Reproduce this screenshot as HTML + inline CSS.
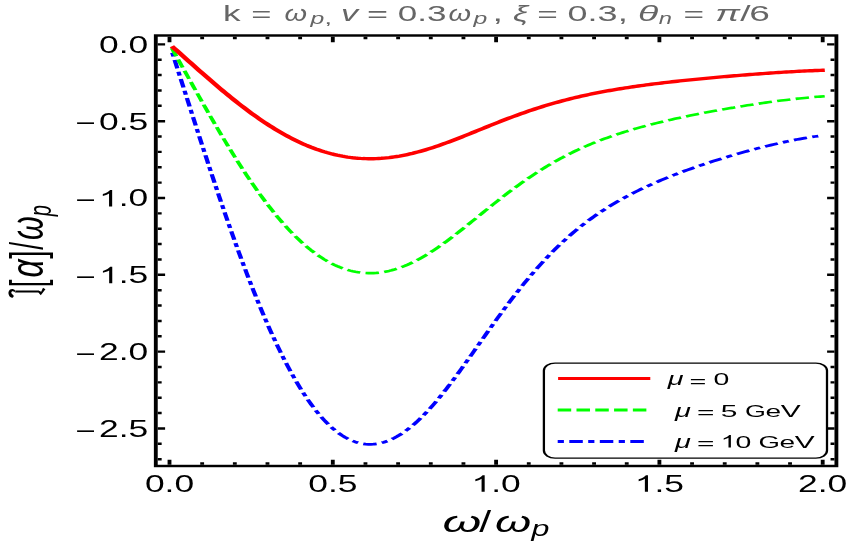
<!DOCTYPE html>
<html><head><meta charset="utf-8"><title>plot</title>
<style>
html,body{margin:0;padding:0;background:#fff;}
body{width:850px;height:545px;overflow:hidden;}
svg{display:block;will-change:transform;}
text{font-family:"Liberation Sans",sans-serif;}
</style></head><body>
<svg width="850" height="545" viewBox="0 0 541.4013 545" preserveAspectRatio="none">
<rect x="0" y="0" width="541.401" height="545" fill="#fff"/>
<g id="curves" fill="none" stroke-linejoin="round">
<path id="c_blue" d="M109.50 51.55 L111.25 60.05 L113.00 68.58 L114.75 77.12 L116.51 85.67 L118.26 94.22 L120.01 102.77 L121.76 111.31 L123.51 119.83 L125.26 128.33 L127.01 136.81 L128.76 145.25 L130.42 153.19 L132.07 161.09 L133.73 168.94 L135.38 176.75 L137.03 184.51 L138.69 192.22 L140.34 199.86 L141.99 207.44 L143.65 214.96 L145.30 222.40 L146.96 229.77 L148.61 237.06 L150.26 244.27 L151.92 251.39 L153.57 258.42 L155.22 265.36 L156.88 272.21 L158.53 278.95 L160.19 285.60 L161.84 292.14 L163.49 298.57 L165.15 304.89 L166.80 311.10 L168.45 317.19 L170.11 323.17 L171.76 329.02 L173.42 334.75 L175.07 340.35 L176.72 345.83 L178.38 351.17 L180.03 356.38 L181.68 361.45 L183.34 366.39 L184.99 371.19 L186.65 375.85 L188.30 380.36 L189.95 384.73 L191.61 388.96 L193.26 393.03 L194.91 396.96 L196.57 400.73 L198.22 404.36 L199.88 407.82 L201.53 411.14 L203.18 414.30 L204.84 417.30 L206.49 420.15 L208.14 422.83 L209.80 425.36 L211.45 427.73 L213.11 429.94 L214.76 432.00 L216.41 433.89 L218.07 435.62 L219.72 437.20 L221.37 438.61 L223.03 439.87 L224.68 440.97 L226.34 441.92 L227.99 442.70 L229.64 443.33 L231.30 443.81 L232.95 444.13 L234.60 444.30 L236.26 444.32 L237.91 444.19 L239.57 443.91 L241.22 443.49 L242.87 442.92 L244.53 442.21 L246.18 441.35 L247.83 440.36 L249.49 439.23 L251.14 437.97 L252.80 436.57 L254.45 435.05 L256.10 433.39 L257.76 431.62 L259.41 429.72 L261.07 427.71 L262.72 425.58 L264.37 423.34 L266.03 420.99 L267.68 418.53 L269.33 415.98 L270.99 413.32 L272.64 410.58 L274.30 407.74 L275.95 404.82 L277.60 401.81 L279.26 398.73 L280.91 395.57 L282.56 392.35 L284.22 389.06 L285.87 385.71 L287.53 382.31 L289.18 378.85 L290.83 375.35 L292.49 371.82 L294.14 368.24 L295.79 364.64 L297.45 361.02 L299.10 357.37 L300.76 353.71 L302.41 350.05 L304.06 346.37 L305.72 342.70 L307.37 339.03 L309.02 335.37 L310.68 331.71 L312.33 328.07 L313.99 324.46 L315.64 320.86 L317.29 317.28 L318.95 313.74 L320.60 310.22 L322.25 306.74 L323.91 303.29 L325.56 299.88 L327.22 296.51 L328.87 293.18 L330.52 289.89 L332.18 286.65 L333.83 283.46 L335.48 280.31 L337.14 277.21 L338.79 274.16 L340.45 271.17 L342.10 268.22 L343.75 265.32 L345.41 262.48 L347.06 259.69 L348.71 256.95 L350.37 254.26 L352.02 251.63 L353.68 249.04 L355.33 246.51 L356.98 244.04 L358.64 241.61 L360.29 239.24 L361.94 236.92 L363.60 234.64 L365.25 232.42 L366.91 230.25 L368.56 228.13 L370.21 226.05 L371.87 224.03 L373.52 222.05 L375.17 220.11 L376.83 218.22 L378.48 216.37 L380.14 214.57 L381.79 212.80 L383.44 211.08 L385.10 209.39 L386.75 207.74 L388.40 206.13 L390.06 204.55 L391.71 203.01 L393.37 201.50 L395.02 200.02 L396.67 198.57 L398.33 197.15 L399.98 195.76 L401.63 194.39 L403.29 193.06 L404.94 191.75 L406.60 190.47 L408.25 189.21 L409.90 187.97 L411.56 186.76 L413.21 185.57 L414.86 184.40 L416.52 183.25 L418.17 182.12 L419.83 181.00 L421.48 179.91 L423.13 178.84 L424.79 177.78 L426.44 176.74 L428.09 175.71 L429.75 174.70 L431.40 173.71 L433.06 172.73 L434.71 171.76 L436.36 170.80 L438.02 169.86 L439.67 168.94 L441.32 168.02 L442.98 167.11 L444.63 166.22 L446.29 165.34 L447.94 164.47 L449.59 163.61 L451.25 162.76 L452.90 161.91 L454.55 161.08 L456.21 160.26 L457.86 159.45 L459.52 158.65 L461.17 157.85 L462.82 157.07 L464.48 156.29 L466.13 155.53 L467.78 154.77 L469.44 154.02 L471.09 153.28 L472.75 152.55 L474.40 151.82 L476.05 151.11 L477.71 150.40 L479.36 149.71 L481.02 149.02 L482.67 148.35 L484.32 147.68 L485.98 147.02 L487.63 146.38 L489.28 145.74 L490.94 145.12 L492.59 144.50 L494.25 143.90 L495.90 143.31 L497.55 142.73 L499.21 142.16 L500.86 141.61 L502.51 141.07 L504.17 140.55 L505.82 140.04 L507.48 139.54 L509.13 139.06 L510.78 138.59 L512.44 138.14 L514.09 137.71 L515.74 137.30 L517.40 136.90 L519.05 136.53 L520.71 136.17 L522.36 135.84 L524.01 135.52" stroke="#0000ff" stroke-width="2.75" stroke-dasharray="1.200 6.209 5.850 6.209" stroke-dashoffset="16.947" stroke-linecap="square"/>
<path id="c_green" d="M109.50 48.36 L111.25 53.23 L113.00 58.11 L114.75 63.00 L116.51 67.89 L118.26 72.79 L120.01 77.68 L121.76 82.57 L123.51 87.44 L125.26 92.31 L127.01 97.16 L128.76 101.99 L130.42 106.54 L132.07 111.06 L133.73 115.56 L135.38 120.03 L137.03 124.47 L138.69 128.88 L140.34 133.25 L141.99 137.59 L143.65 141.89 L145.30 146.15 L146.96 150.37 L148.61 154.54 L150.26 158.67 L151.92 162.74 L153.57 166.77 L155.22 170.74 L156.88 174.66 L158.53 178.52 L160.19 182.33 L161.84 186.07 L163.49 189.75 L165.15 193.37 L166.80 196.92 L168.45 200.41 L170.11 203.83 L171.76 207.18 L173.42 210.46 L175.07 213.66 L176.72 216.80 L178.38 219.85 L180.03 222.84 L181.68 225.74 L183.34 228.57 L184.99 231.31 L186.65 233.98 L188.30 236.56 L189.95 239.07 L191.61 241.48 L193.26 243.82 L194.91 246.06 L196.57 248.22 L198.22 250.30 L199.88 252.28 L201.53 254.18 L203.18 255.99 L204.84 257.70 L206.49 259.33 L208.14 260.87 L209.80 262.32 L211.45 263.68 L213.11 264.94 L214.76 266.12 L216.41 267.20 L218.07 268.19 L219.72 269.09 L221.37 269.90 L223.03 270.62 L224.68 271.25 L226.34 271.79 L227.99 272.24 L229.64 272.61 L231.30 272.88 L232.95 273.06 L234.60 273.16 L236.26 273.17 L237.91 273.10 L239.57 272.94 L241.22 272.69 L242.87 272.37 L244.53 271.96 L246.18 271.47 L247.83 270.90 L249.49 270.26 L251.14 269.53 L252.80 268.73 L254.45 267.86 L256.10 266.92 L257.76 265.90 L259.41 264.82 L261.07 263.66 L262.72 262.44 L264.37 261.16 L266.03 259.82 L267.68 258.41 L269.33 256.95 L270.99 255.43 L272.64 253.86 L274.30 252.23 L275.95 250.56 L277.60 248.84 L279.26 247.08 L280.91 245.27 L282.56 243.42 L284.22 241.54 L285.87 239.62 L287.53 237.68 L289.18 235.70 L290.83 233.70 L292.49 231.67 L294.14 229.63 L295.79 227.57 L297.45 225.49 L299.10 223.41 L300.76 221.31 L302.41 219.21 L304.06 217.11 L305.72 215.01 L307.37 212.91 L309.02 210.81 L310.68 208.72 L312.33 206.64 L313.99 204.56 L315.64 202.50 L317.29 200.46 L318.95 198.43 L320.60 196.42 L322.25 194.42 L323.91 192.45 L325.56 190.50 L327.22 188.57 L328.87 186.66 L330.52 184.78 L332.18 182.93 L333.83 181.10 L335.48 179.30 L337.14 177.52 L338.79 175.78 L340.45 174.06 L342.10 172.38 L343.75 170.72 L345.41 169.09 L347.06 167.49 L348.71 165.93 L350.37 164.39 L352.02 162.88 L353.68 161.40 L355.33 159.95 L356.98 158.54 L358.64 157.15 L360.29 155.79 L361.94 154.46 L363.60 153.16 L365.25 151.89 L366.91 150.65 L368.56 149.43 L370.21 148.24 L371.87 147.08 L373.52 145.95 L375.17 144.84 L376.83 143.76 L378.48 142.70 L380.14 141.67 L381.79 140.66 L383.44 139.67 L385.10 138.71 L386.75 137.76 L388.40 136.84 L390.06 135.94 L391.71 135.05 L393.37 134.19 L395.02 133.34 L396.67 132.51 L398.33 131.70 L399.98 130.90 L401.63 130.12 L403.29 129.36 L404.94 128.61 L406.60 127.87 L408.25 127.15 L409.90 126.45 L411.56 125.75 L413.21 125.07 L414.86 124.40 L416.52 123.74 L418.17 123.09 L419.83 122.46 L421.48 121.83 L423.13 121.22 L424.79 120.61 L426.44 120.02 L428.09 119.43 L429.75 118.85 L431.40 118.28 L433.06 117.72 L434.71 117.17 L436.36 116.62 L438.02 116.08 L439.67 115.55 L441.32 115.03 L442.98 114.51 L444.63 114.00 L446.29 113.49 L447.94 112.99 L449.59 112.50 L451.25 112.01 L452.90 111.53 L454.55 111.06 L456.21 110.59 L457.86 110.12 L459.52 109.66 L461.17 109.21 L462.82 108.76 L464.48 108.31 L466.13 107.88 L467.78 107.44 L469.44 107.01 L471.09 106.59 L472.75 106.17 L474.40 105.76 L476.05 105.35 L477.71 104.94 L479.36 104.55 L481.02 104.15 L482.67 103.77 L484.32 103.39 L485.98 103.01 L487.63 102.64 L489.28 102.28 L490.94 101.92 L492.59 101.57 L494.25 101.22 L495.90 100.88 L497.55 100.55 L499.21 100.23 L500.86 99.91 L502.51 99.60 L504.17 99.30 L505.82 99.01 L507.48 98.73 L509.13 98.45 L510.78 98.18 L512.44 97.93 L514.09 97.68 L515.74 97.44 L517.40 97.22 L519.05 97.00 L520.71 96.80 L522.36 96.61 L524.01 96.43" stroke="#00ff00" stroke-width="2.60" stroke-dasharray="6.000 6.005" stroke-dashoffset="10.932" stroke-linecap="square"/>
<path id="c_red" d="M109.50 46.23 L111.25 48.67 L113.00 51.11 L114.75 53.56 L116.51 56.00 L118.26 58.45 L120.01 60.90 L121.76 63.35 L123.51 65.79 L125.26 68.22 L127.01 70.65 L128.76 73.07 L130.42 75.34 L132.07 77.60 L133.73 79.85 L135.38 82.09 L137.03 84.31 L138.69 86.52 L140.34 88.71 L141.99 90.88 L143.65 93.03 L145.30 95.16 L146.96 97.27 L148.61 99.36 L150.26 101.42 L151.92 103.46 L153.57 105.48 L155.22 107.46 L156.88 109.42 L158.53 111.36 L160.19 113.26 L161.84 115.13 L163.49 116.97 L165.15 118.78 L166.80 120.56 L168.45 122.31 L170.11 124.02 L171.76 125.69 L173.42 127.33 L175.07 128.94 L176.72 130.51 L178.38 132.04 L180.03 133.53 L181.68 134.98 L183.34 136.40 L184.99 137.77 L186.65 139.10 L188.30 140.40 L189.95 141.65 L191.61 142.86 L193.26 144.02 L194.91 145.15 L196.57 146.23 L198.22 147.27 L199.88 148.26 L201.53 149.21 L203.18 150.11 L204.84 150.97 L206.49 151.79 L208.14 152.56 L209.80 153.28 L211.45 153.96 L213.11 154.59 L214.76 155.18 L216.41 155.72 L218.07 156.22 L219.72 156.67 L221.37 157.08 L223.03 157.44 L224.68 157.75 L226.34 158.02 L227.99 158.25 L229.64 158.43 L231.30 158.57 L232.95 158.66 L234.60 158.71 L236.26 158.71 L237.91 158.68 L239.57 158.60 L241.22 158.47 L242.87 158.31 L244.53 158.11 L246.18 157.86 L247.83 157.58 L249.49 157.25 L251.14 156.89 L252.80 156.49 L254.45 156.06 L256.10 155.58 L257.76 155.07 L259.41 154.53 L261.07 153.95 L262.72 153.35 L264.37 152.70 L266.03 152.03 L267.68 151.33 L269.33 150.60 L270.99 149.84 L272.64 149.05 L274.30 148.24 L275.95 147.40 L277.60 146.54 L279.26 145.66 L280.91 144.75 L282.56 143.83 L284.22 142.89 L285.87 141.93 L287.53 140.95 L289.18 139.96 L290.83 138.96 L292.49 137.95 L294.14 136.93 L295.79 135.89 L297.45 134.86 L299.10 133.81 L300.76 132.77 L302.41 131.71 L304.06 130.66 L305.72 129.61 L307.37 128.56 L309.02 127.51 L310.68 126.46 L312.33 125.42 L313.99 124.39 L315.64 123.36 L317.29 122.33 L318.95 121.32 L320.60 120.31 L322.25 119.31 L323.91 118.32 L325.56 117.35 L327.22 116.38 L328.87 115.43 L330.52 114.49 L332.18 113.56 L333.83 112.65 L335.48 111.74 L337.14 110.86 L338.79 109.98 L340.45 109.13 L342.10 108.28 L343.75 107.45 L345.41 106.64 L347.06 105.84 L348.71 105.05 L350.37 104.28 L352.02 103.53 L353.68 102.79 L355.33 102.07 L356.98 101.36 L358.64 100.66 L360.29 99.98 L361.94 99.32 L363.60 98.67 L365.25 98.03 L366.91 97.41 L368.56 96.80 L370.21 96.21 L371.87 95.63 L373.52 95.06 L375.17 94.51 L376.83 93.96 L378.48 93.43 L380.14 92.92 L381.79 92.41 L383.44 91.92 L385.10 91.44 L386.75 90.96 L388.40 90.50 L390.06 90.05 L391.71 89.61 L393.37 89.17 L395.02 88.75 L396.67 88.33 L398.33 87.93 L399.98 87.53 L401.63 87.14 L403.29 86.76 L404.94 86.38 L406.60 86.02 L408.25 85.65 L409.90 85.30 L411.56 84.95 L413.21 84.61 L414.86 84.28 L416.52 83.95 L418.17 83.62 L419.83 83.31 L421.48 82.99 L423.13 82.68 L424.79 82.38 L426.44 82.08 L428.09 81.79 L429.75 81.50 L431.40 81.22 L433.06 80.93 L434.71 80.66 L436.36 80.38 L438.02 80.12 L439.67 79.85 L441.32 79.59 L442.98 79.33 L444.63 79.07 L446.29 78.82 L447.94 78.57 L449.59 78.32 L451.25 78.08 L452.90 77.84 L454.55 77.60 L456.21 77.37 L457.86 77.13 L459.52 76.90 L461.17 76.68 L462.82 76.45 L464.48 76.23 L466.13 76.01 L467.78 75.79 L469.44 75.58 L471.09 75.37 L472.75 75.16 L474.40 74.95 L476.05 74.74 L477.71 74.54 L479.36 74.34 L481.02 74.15 L482.67 73.95 L484.32 73.76 L485.98 73.57 L487.63 73.39 L489.28 73.21 L490.94 73.03 L492.59 72.85 L494.25 72.68 L495.90 72.51 L497.55 72.35 L499.21 72.18 L500.86 72.02 L502.51 71.87 L504.17 71.72 L505.82 71.57 L507.48 71.43 L509.13 71.29 L510.78 71.16 L512.44 71.03 L514.09 70.91 L515.74 70.79 L517.40 70.68 L519.05 70.57 L520.71 70.47 L522.36 70.37 L524.01 70.28 L525.35 70.21" stroke="#ff0000" stroke-width="3.40" stroke-linecap="butt"/>
</g>
<g id="frame" stroke="#000" stroke-width="2.45" fill="none" stroke-linecap="butt">
<rect x="99.236" y="35.500" width="433.503" height="430.500"/>
<path d="M107.962 464.775 v-5.000 M107.962 36.725 v5.500 M128.764 464.775 v-2.600 M128.764 36.725 v2.600 M149.567 464.775 v-2.600 M149.567 36.725 v2.600 M170.369 464.775 v-2.600 M170.369 36.725 v2.600 M191.172 464.775 v-2.600 M191.172 36.725 v2.600 M211.975 464.775 v-5.000 M211.975 36.725 v5.500 M232.777 464.775 v-2.600 M232.777 36.725 v2.600 M253.580 464.775 v-2.600 M253.580 36.725 v2.600 M274.382 464.775 v-2.600 M274.382 36.725 v2.600 M295.185 464.775 v-2.600 M295.185 36.725 v2.600 M315.987 464.775 v-5.000 M315.987 36.725 v5.500 M336.790 464.775 v-2.600 M336.790 36.725 v2.600 M357.592 464.775 v-2.600 M357.592 36.725 v2.600 M378.395 464.775 v-2.600 M378.395 36.725 v2.600 M399.197 464.775 v-2.600 M399.197 36.725 v2.600 M420.000 464.775 v-5.000 M420.000 36.725 v5.500 M440.803 464.775 v-2.600 M440.803 36.725 v2.600 M461.605 464.775 v-2.600 M461.605 36.725 v2.600 M482.408 464.775 v-2.600 M482.408 36.725 v2.600 M503.210 464.775 v-2.600 M503.210 36.725 v2.600 M524.013 464.775 v-5.000 M524.013 36.725 v5.500 M100.461 44.350 h4.700 M531.514 44.350 h-4.700 M100.461 59.714 h2.500 M531.514 59.714 h-2.500 M100.461 75.078 h2.500 M531.514 75.078 h-2.500 M100.461 90.442 h2.500 M531.514 90.442 h-2.500 M100.461 105.806 h2.500 M531.514 105.806 h-2.500 M100.461 121.170 h4.700 M531.514 121.170 h-4.700 M100.461 136.534 h2.500 M531.514 136.534 h-2.500 M100.461 151.898 h2.500 M531.514 151.898 h-2.500 M100.461 167.262 h2.500 M531.514 167.262 h-2.500 M100.461 182.626 h2.500 M531.514 182.626 h-2.500 M100.461 197.990 h4.700 M531.514 197.990 h-4.700 M100.461 213.354 h2.500 M531.514 213.354 h-2.500 M100.461 228.718 h2.500 M531.514 228.718 h-2.500 M100.461 244.082 h2.500 M531.514 244.082 h-2.500 M100.461 259.446 h2.500 M531.514 259.446 h-2.500 M100.461 274.810 h4.700 M531.514 274.810 h-4.700 M100.461 290.174 h2.500 M531.514 290.174 h-2.500 M100.461 305.538 h2.500 M531.514 305.538 h-2.500 M100.461 320.902 h2.500 M531.514 320.902 h-2.500 M100.461 336.266 h2.500 M531.514 336.266 h-2.500 M100.461 351.630 h4.700 M531.514 351.630 h-4.700 M100.461 366.994 h2.500 M531.514 366.994 h-2.500 M100.461 382.358 h2.500 M531.514 382.358 h-2.500 M100.461 397.722 h2.500 M531.514 397.722 h-2.500 M100.461 413.086 h2.500 M531.514 413.086 h-2.500 M100.461 428.450 h4.700 M531.514 428.450 h-4.700 M100.461 443.814 h2.500 M531.514 443.814 h-2.500 M100.461 459.178 h2.500 M531.514 459.178 h-2.500"/>
</g>
<g id="xticks">
<text transform="translate(92.290 491.700) scale(0.9595 1)" font-size="23.50" fill="#000">0</text>
<text transform="translate(104.830 491.700) scale(0.9595 1)" font-size="23.50" fill="#000">.</text>
<text transform="translate(111.094 491.700) scale(0.9595 1)" font-size="23.50" fill="#000">0</text>
<text transform="translate(196.302 491.700) scale(0.9595 1)" font-size="23.50" fill="#000">0</text>
<text transform="translate(208.842 491.700) scale(0.9595 1)" font-size="23.50" fill="#000">.</text>
<text transform="translate(215.107 491.700) scale(0.9595 1)" font-size="23.50" fill="#000">5</text>
<path transform="translate(300.315 491.700) scale(0.01101 -0.01119)" d="M763 0H583V1147Q518 1085 412.5 1023T223 930V1104Q373 1174.5 485 1275T644 1470H763Z" fill="#000"/>
<text transform="translate(312.855 491.700) scale(0.9595 1)" font-size="23.50" fill="#000">.</text>
<text transform="translate(319.120 491.700) scale(0.9595 1)" font-size="23.50" fill="#000">0</text>
<path transform="translate(404.328 491.700) scale(0.01101 -0.01119)" d="M763 0H583V1147Q518 1085 412.5 1023T223 930V1104Q373 1174.5 485 1275T644 1470H763Z" fill="#000"/>
<text transform="translate(416.868 491.700) scale(0.9595 1)" font-size="23.50" fill="#000">.</text>
<text transform="translate(423.132 491.700) scale(0.9595 1)" font-size="23.50" fill="#000">5</text>
<text transform="translate(508.340 491.700) scale(0.9595 1)" font-size="23.50" fill="#000">2</text>
<text transform="translate(520.880 491.700) scale(0.9595 1)" font-size="23.50" fill="#000">.</text>
<text transform="translate(527.145 491.700) scale(0.9595 1)" font-size="23.50" fill="#000">0</text>
</g>
<g id="yticks">
<text transform="translate(63.039 52.800) scale(0.9595 1)" font-size="23.50" fill="#000">0</text>
<text transform="translate(75.579 52.800) scale(0.9595 1)" font-size="23.50" fill="#000">.</text>
<text transform="translate(81.844 52.800) scale(0.9595 1)" font-size="23.50" fill="#000">0</text>
<text transform="translate(63.106 129.620) scale(0.9595 1)" font-size="23.50" fill="#000">0</text>
<text transform="translate(75.646 129.620) scale(0.9595 1)" font-size="23.50" fill="#000">.</text>
<text transform="translate(81.910 129.620) scale(0.9595 1)" font-size="23.50" fill="#000">5</text>
<text transform="translate(48.079 131.320) scale(0.9428 1)" font-size="23.50" fill="#000">−</text>
<path transform="translate(63.039 206.440) scale(0.01101 -0.01119)" d="M763 0H583V1147Q518 1085 412.5 1023T223 930V1104Q373 1174.5 485 1275T644 1470H763Z" fill="#000"/>
<text transform="translate(75.579 206.440) scale(0.9595 1)" font-size="23.50" fill="#000">.</text>
<text transform="translate(81.844 206.440) scale(0.9595 1)" font-size="23.50" fill="#000">0</text>
<text transform="translate(48.079 208.140) scale(0.9428 1)" font-size="23.50" fill="#000">−</text>
<path transform="translate(63.106 283.260) scale(0.01101 -0.01119)" d="M763 0H583V1147Q518 1085 412.5 1023T223 930V1104Q373 1174.5 485 1275T644 1470H763Z" fill="#000"/>
<text transform="translate(75.646 283.260) scale(0.9595 1)" font-size="23.50" fill="#000">.</text>
<text transform="translate(81.910 283.260) scale(0.9595 1)" font-size="23.50" fill="#000">5</text>
<text transform="translate(48.079 284.960) scale(0.9428 1)" font-size="23.50" fill="#000">−</text>
<text transform="translate(63.039 360.080) scale(0.9595 1)" font-size="23.50" fill="#000">2</text>
<text transform="translate(75.579 360.080) scale(0.9595 1)" font-size="23.50" fill="#000">.</text>
<text transform="translate(81.844 360.080) scale(0.9595 1)" font-size="23.50" fill="#000">0</text>
<text transform="translate(48.079 361.780) scale(0.9428 1)" font-size="23.50" fill="#000">−</text>
<text transform="translate(63.106 436.900) scale(0.9595 1)" font-size="23.50" fill="#000">2</text>
<text transform="translate(75.646 436.900) scale(0.9595 1)" font-size="23.50" fill="#000">.</text>
<text transform="translate(81.910 436.900) scale(0.9595 1)" font-size="23.50" fill="#000">5</text>
<text transform="translate(48.079 438.600) scale(0.9428 1)" font-size="23.50" fill="#000">−</text>
</g>
<g id="title">
<text transform="translate(142.054 20.900) scale(1.0540 1)" font-size="21.30" fill="#666666">k</text>
<text transform="translate(160.071 22.200) scale(1.0340 1)" font-size="21.30" fill="#666666">=</text>
<text transform="translate(181.180 20.900) scale(0.8665 1)" font-size="21.30" font-style="italic" fill="#666666">ω</text>
<text transform="translate(197.782 24.100) scale(0.9990 1)" font-size="15.80" font-style="italic" fill="#666666">p</text>
<text transform="translate(206.520 24.100) scale(1.1501 1)" font-size="15.80" fill="#666666">,</text>
<text transform="translate(217.214 20.900) scale(1.0247 1)" font-size="21.30" font-style="italic" fill="#666666">v</text>
<text transform="translate(233.784 22.200) scale(1.0771 1)" font-size="21.30" fill="#666666">=</text>
<text transform="translate(253.396 20.900) scale(1.0478 1)" font-size="21.30" fill="#666666">0.3</text>
<text transform="translate(285.702 20.900) scale(0.8665 1)" font-size="21.30" font-style="italic" fill="#666666">ω</text>
<text transform="translate(301.540 24.100) scale(0.9990 1)" font-size="15.80" font-style="italic" fill="#666666">p</text>
<text transform="translate(313.703 20.900) scale(1.1273 1)" font-size="21.30" fill="#666666">,</text>
<text transform="translate(326.742 20.900) scale(1.0196 1)" font-size="21.30" font-style="italic" fill="#666666">ξ</text>
<text transform="translate(342.154 22.200) scale(1.0525 1)" font-size="21.30" fill="#666666">=</text>
<text transform="translate(361.462 20.900) scale(1.0752 1)" font-size="21.30" fill="#666666">0.3</text>
<text transform="translate(393.506 20.900) scale(1.0969 1)" font-size="21.30" fill="#666666">,</text>
<text transform="translate(406.342 20.900) scale(1.1174 1)" font-size="21.30" font-style="italic" fill="#666666">θ</text>
<text transform="translate(419.622 24.100) scale(0.9545 1)" font-size="15.80" font-style="italic" fill="#666666">n</text>
<text transform="translate(435.338 22.200) scale(1.0525 1)" font-size="21.30" fill="#666666">=</text>
<text transform="translate(455.577 20.900) scale(1.1063 1)" font-size="21.30" font-style="italic" fill="#666666">π</text>
<text transform="translate(471.465 20.900) scale(1.1086 1)" font-size="21.30" fill="#666666">/</text>
<text transform="translate(477.273 20.900) scale(1.1082 1)" font-size="21.30" fill="#666666">6</text>
</g>
<g id="xlab">
<text transform="translate(281.891 532.000) scale(1.0833 1)" font-size="29.30" font-style="italic" fill="#000">ω</text>
<text transform="translate(305.287 531.800) scale(0.9311 1)" font-size="29.30" fill="#000">/</text>
<text transform="translate(315.337 532.000) scale(1.0103 1)" font-size="29.30" font-style="italic" fill="#000">ω</text>
<text transform="translate(338.537 536.400) scale(0.9690 1)" font-size="21.20" font-style="italic" fill="#000">p</text>
</g>
<g id="ylab" transform="translate(27.42 298.50) rotate(-90)" fill="#000">
<text transform="translate(11.227 0.000) scale(0.9344 1)" font-size="29.62">[</text>
<text transform="translate(21.013 0.000) scale(1.0740 1)" font-size="29.62" font-style="italic">α</text>
<text transform="translate(39.660 0.000) scale(1.0364 1)" font-size="29.62">]</text>
<text transform="translate(48.800 0.000) scale(0.9479 1)" font-size="29.62">/</text>
<text transform="translate(58.606 0.000) scale(1.0256 1)" font-size="29.62" font-style="italic">ω</text>
<text transform="translate(82.304 5.064) scale(0.9846 1)" font-size="20.54" font-style="italic">p</text>
<g transform="scale(1 0.9554)">
<path d="M8.13 -18.61 C8.67 -18.89 9.41 -19.73 9.54 -20.29 C9.68 -20.85 9.47 -21.51 8.94 -21.97 C8.40 -22.43 7.20 -22.91 6.31 -23.05 C5.42 -23.18 4.39 -22.98 3.59 -22.78 C2.78 -22.58 1.94 -22.24 1.47 -21.84 C1.00 -21.43 0.58 -20.74 0.76 -20.36 C0.95 -19.98 2.02 -19.55 2.58 -19.55 C3.13 -19.55 3.59 -20.09 4.09 -20.36 C4.60 -20.63 5.10 -21.10 5.61 -21.16 C6.11 -21.23 6.90 -21.02 7.12 -20.76 C7.34 -20.50 7.05 -19.98 6.92 -19.62 C6.78 -19.26 6.11 -18.78 6.31 -18.61 C6.51 -18.44 7.59 -18.33 8.13 -18.61 Z M8.33 -18.74 L7.93 -2.59 L5.91 -2.59 L6.11 -18.74 Z M7.93 -2.93 L6.82 -1.25 L10.75 -0.04 L9.34 1.58 L3.28 -1.52 L5.91 -3.13 Z" fill="#000" stroke="none"/>
</g>
</g>
<g id="legend">
<rect x="346.433" y="363.100" width="180.318" height="95.000" rx="7.1" ry="7.5" fill="#fff" stroke="#000" stroke-width="1.45"/>
<path d="M355.48 378.55 H414.20" stroke="#ff0000" stroke-width="3" fill="none"/>
<path d="M356.72 410.1 H412.72" stroke="#00ff00" stroke-width="3" fill="none" stroke-dasharray="5.6 6.37" stroke-linecap="square"/>
<path d="M356.72 441.55 H413.22" stroke="#0000ff" stroke-width="3" fill="none" stroke-dasharray="0.95 6.44 5.6 6.44" stroke-linecap="square"/>
<text transform="translate(425.353 385.300) scale(1.0236 1)" font-size="17.90" font-style="italic" fill="#000">μ</text>
<text transform="translate(439.231 386.600) scale(1.0609 1)" font-size="17.30" fill="#000">=</text>
<text transform="translate(454.388 385.300) scale(1.0475 1)" font-size="17.30" fill="#000">0</text>
<text transform="translate(429.941 416.600) scale(1.0300 1)" font-size="17.90" font-style="italic" fill="#000">μ</text>
<text transform="translate(443.976 417.900) scale(1.0988 1)" font-size="17.30" fill="#000">=</text>
<text transform="translate(459.109 416.600) scale(1.1027 1)" font-size="17.30" fill="#000">5</text>
<text transform="translate(474.492 416.600) scale(0.9869 1)" font-size="17.30" fill="#000">G</text>
<text transform="translate(487.519 416.600) scale(1.0357 1)" font-size="17.30" fill="#000">e</text>
<text transform="translate(497.241 416.600) scale(1.1019 1)" font-size="17.30" fill="#000">V</text>
<text transform="translate(429.941 447.500) scale(1.0300 1)" font-size="17.90" font-style="italic" fill="#000">μ</text>
<text transform="translate(443.976 448.800) scale(1.0988 1)" font-size="17.30" fill="#000">=</text>
<path transform="translate(459.062 447.5) scale(0.00849 -0.00845)" d="M763 0H583V1147Q518 1085 412.5 1023T223 930V1104Q373 1174.5 485 1275T644 1470H763Z" fill="#000"/>
<text transform="translate(468.400 447.500) scale(1.0475 1)" font-size="17.30" fill="#000">0</text>
<text transform="translate(483.193 447.500) scale(1.0151 1)" font-size="17.30" fill="#000">G</text>
<text transform="translate(496.564 447.500) scale(1.0357 1)" font-size="17.30" fill="#000">e</text>
<text transform="translate(506.222 447.500) scale(1.1019 1)" font-size="17.30" fill="#000">V</text>
</g>
</svg>
</body></html>
